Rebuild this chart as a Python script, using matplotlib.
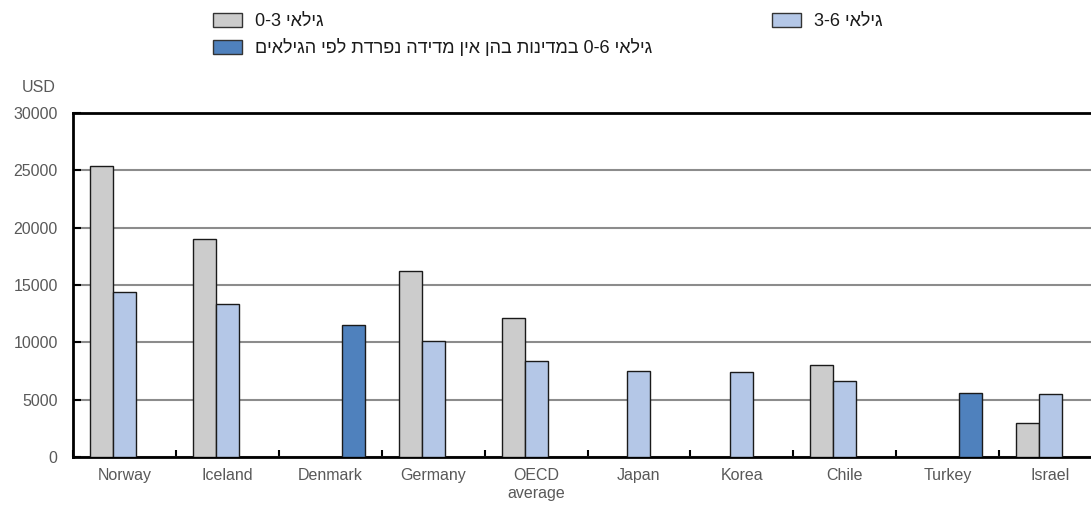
import matplotlib
matplotlib.use("Agg")
import matplotlib.pyplot as plt
from matplotlib.patches import Patch
import numpy as np

plt.rcParams['font.family'] = ['Liberation Sans', 'DejaVu Sans']

categories = ["Norway", "Iceland", "Denmark", "Germany", "OECD\naverage",
              "Japan", "Korea", "Chile", "Turkey", "Israel"]
age_0_3 = [25400, 19000, np.nan, 16200, 12100, np.nan, np.nan, 8000, np.nan, 3000]
age_3_6 = [14400, 13300, np.nan, 10100, 8400, 7500, 7400, 6600, np.nan, 5500]
age_0_6 = [np.nan, np.nan, 11500, np.nan, np.nan, np.nan, np.nan, np.nan, 5600, np.nan]
yticks = [0, 5000, 10000, 15000, 20000, 25000, 30000]

label_0_3 = "גילאי 0-3"
label_3_6 = "גילאי 3-6"
label_0_6 = "גילאי 0-6 במדינות בהן אין מדידה נפרדת לפי הגילאים"


def visual(s):
    def heb(w):
        return any('\u0590' <= c <= '\u05FF' for c in w)
    words = s.split(' ')
    return ' '.join(w[::-1] if heb(w) else w for w in reversed(words))


W, H = 1091, 508
fig = plt.figure(figsize=(W / 100, H / 100), dpi=100)
ax = fig.add_axes([73 / W, (H - 457) / H, (1102 - 73) / W, (457 - 113) / H])

c_gray = "#cccccc"
c_light = "#b4c7e7"
c_dark = "#4f81bd"
tc = "#595959"

x = np.arange(len(categories))
bw = 0.223
kw = dict(edgecolor="#1a1a1a", linewidth=1.0, zorder=3)
ax.bar(x - bw, age_0_3, bw, color=c_gray, **kw)
ax.bar(x, age_3_6, bw, color=c_light, **kw)
ax.bar(x + bw, age_0_6, bw, color=c_dark, **kw)

ax.set_xlim(-0.5, len(categories) - 0.5)
ax.set_ylim(0, 30000)
ax.set_yticks(yticks)
ax.set_yticklabels([str(v) for v in yticks])
ax.yaxis.grid(True, color="#8c8c8c", linewidth=1.5, zorder=0)
ax.set_axisbelow(True)

ax.set_xticks(x)
ax.set_xticklabels(categories, color=tc, fontsize=11.5, linespacing=1.25)
ax.set_xticks(np.arange(len(categories) + 1) - 0.5, minor=True)
ax.tick_params(axis='x', which='major', length=0, pad=8)
ax.tick_params(axis='x', which='minor', direction='in', length=5, width=1.5, color='black')
ax.tick_params(axis='y', direction='in', length=6, width=1.5, color='black',
               labelcolor=tc, labelsize=11.5, pad=11)

for s in ['left', 'bottom', 'top']:
    ax.spines[s].set_linewidth(2)
    ax.spines[s].set_color('black')
ax.spines['right'].set_visible(False)

fig.text(56 / W, 1 - 87 / H, "USD", ha='right', va='center', color=tc, fontsize=11.5)

fs = 13
fpx = fs * 100 / 72
leg_kw = dict(loc='upper left', frameon=False,
              prop={'family': ['Liberation Sans', 'DejaVu Sans'], 'size': fs},
              borderpad=0, borderaxespad=0,
              handlelength=29 / fpx, handleheight=14 / fpx,
              handletextpad=13 / fpx, labelspacing=0.52)
h_gray = Patch(facecolor=c_gray, edgecolor="#333333", linewidth=1)
h_dark = Patch(facecolor=c_dark, edgecolor="#333333", linewidth=1)
h_light = Patch(facecolor=c_light, edgecolor="#333333", linewidth=1)

leg1 = fig.legend([h_gray, h_dark], [visual(label_0_3), visual(label_0_6)],
                  bbox_to_anchor=(213 / W, 1 - 13 / H), **leg_kw)
leg2 = fig.legend([h_light], [visual(label_3_6)],
                  bbox_to_anchor=(772 / W, 1 - 13 / H), **leg_kw)
for lg in (leg1, leg2):
    for t in lg.get_texts():
        t.set_color("#1a1a1a")

fig.savefig("out.png", dpi=100)
